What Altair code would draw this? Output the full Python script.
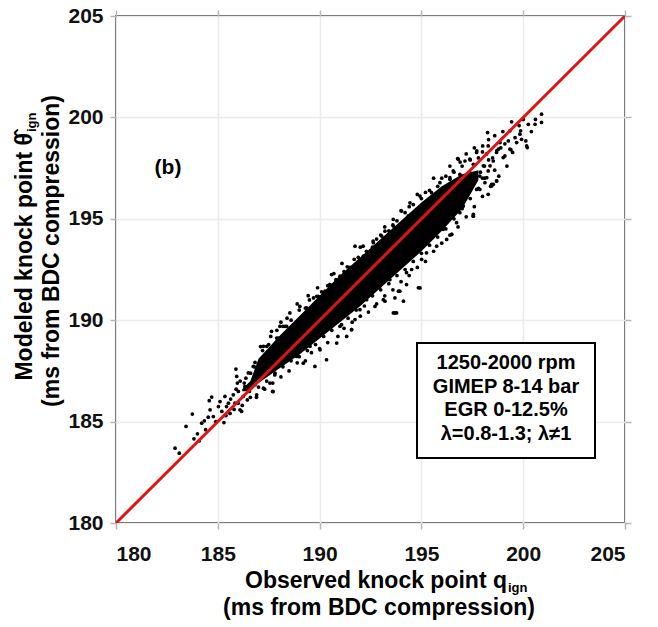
import altair as alt
import pandas as pd

FONT = "Liberation Sans"

# ---- scatter points (observed, modeled) ----
obs = [182.90,183.11,183.44,183.75,183.83,184.09,184.21,184.34,184.53,184.62,184.58,184.70,184.78,185.03,185.11,185.30,185.35,185.43,185.52,185.63,185.76,185.84,185.93,185.96,186.01,186.09,186.17,186.25,186.33,186.38,186.45,186.55,186.61,186.74,186.83,186.91,186.99,187.07,187.24,187.37,187.56,187.69,187.81,187.89,188.05,186.83,185.89,
       187.72,189.44,189.77,189.94,190.51,191.00,191.36,191.57,190.02,189.20,188.71,188.30,187.97,187.40,191.08,191.98,192.31,192.72,193.13,193.70,192.96,193.29,192.47,192.15,190.59,190.26,189.03,188.54,188.05,187.64,190.34,189.53,188.87,190.84,191.33,191.74,
       192.14,192.63,193.21,193.62,194.03,194.44,194.93,195.50,195.91,196.40,196.89,197.38,198.53,198.28,197.55,196.73,196.24,196.48,195.75,195.01,194.93,194.27,193.94,193.70,193.21,193.45,194.52,195.25,196.07,197.06,197.87,
       200.90,200.90,200.58,200.25,199.43,199.87,199.84,199.35,199.27,199.68,199.92,200.13,200.20,199.35,199.48,199.10,199.02,198.25,198.01,197.71,198.28,198.69,198.53,198.78,198.86,196.81,197.14,197.38,197.55,198.04,198.37,198.28,197.87,198.69,198.45,198.12,197.71,197.55,196.89,196.56,196.40,
       200.17,198.70,196.78,197.72,194.85,193.87,194.12,193.62,197.55,196.49,198.70,198.21,198.45,
       193.78,194.27,191.74,192.15,190.51,189.86,189.36,188.38,187.89,187.24,191.25,192.64,193.05,193.62,194.36,191.57,
       186.5,186.8,187.2,187.5,187.9,188.2,188.6,189.0,189.3,189.7,190.1,190.4,190.8,191.2,191.5,191.9,192.3,192.6,193.0,193.4,193.8,194.2,194.6,195.0,195.4,195.8,196.2,196.6,197.0,197.4,197.8,
       186.6,187.0,187.4,187.8,188.2,188.6,189.0,189.4,189.8,190.2,190.6,191.0,191.4,191.8,192.2,192.6,193.0,193.4,193.8,194.2,194.6,195.0,195.4,195.8,196.2,196.6,197.0,197.4,197.8,198.1,
       187.1,187.6,188.1,188.4,188.9,189.5,189.9,190.7,191.1,191.7,192.0,192.8,193.2,193.6,194.0,194.4,194.8,195.2,195.6,196.0,196.4,196.9,197.2,197.6,198.0,198.3,198.6,
       186.9,187.3,187.7,188.1,188.5,188.9,189.3,189.6,190.0,190.4,190.9,191.2,191.6,192.0,192.4,192.8,193.2,193.6,194.0,194.4,194.8,195.2,195.6,196.0,196.4,196.8,197.2,197.6,198.0,198.4,198.8,199.2,
       197.9,198.1,198.3,198.0,198.5,198.2,198.9,199.1,198.6,199.4,199.6,199.0,199.8,200.4,200.6,200.0,
       185.6,185.8,186.0,186.2,185.4,185.9,186.1,186.3,185.2,184.9,184.4,184.0]
mod = [183.69,183.44,184.76,185.37,184.15,184.05,184.92,185.04,185.22,185.58,186.03,186.21,185.25,185.74,185.99,184.95,186.24,185.74,185.91,186.11,186.32,185.91,187.23,186.90,186.49,185.58,185.50,186.24,186.73,187.14,186.07,186.49,187.39,187.72,186.82,186.32,187.06,187.56,186.65,187.31,186.90,186.49,187.39,187.72,187.88,187.92,187.59,
       186.48,191.21,187.72,191.18,191.75,192.17,192.63,189.53,188.54,187.88,188.38,189.70,189.12,188.71,189.78,190.52,191.01,190.68,191.01,190.36,191.67,192.17,192.41,191.67,192.25,191.43,190.68,190.36,189.70,189.45,188.05,188.71,188.21,188.87,189.20,190.03,
       193.65,193.90,194.39,194.97,195.38,195.79,196.12,196.29,196.78,197.03,197.19,197.28,196.70,196.21,195.13,194.81,193.98,194.23,193.65,193.00,191.59,191.76,191.43,191.10,190.94,192.00,192.50,193.32,194.48,195.63,196.45,
       200.16,199.75,199.66,199.66,199.78,199.34,199.17,199.34,198.84,198.76,198.92,198.84,198.51,198.43,198.27,198.10,198.02,199.25,198.59,198.27,198.59,198.27,197.85,198.43,198.76,197.94,197.85,197.94,197.69,197.61,197.61,197.36,197.11,196.87,196.62,196.78,196.45,195.22,195.30,197.36,196.95,
       198.59,198.35,197.97,198.35,191.60,191.43,190.94,190.36,195.14,194.23,196.87,197.03,196.70,
       190.36,192.34,193.65,193.16,191.76,191.18,190.61,189.70,189.12,188.71,192.17,193.82,194.15,194.64,195.14,189.54,
       187.4,187.7,188.5,188.8,189.5,189.7,190.0,190.5,190.6,191.1,191.4,191.7,192.0,192.4,192.6,193.1,193.4,193.6,194.2,194.4,194.9,195.3,195.7,196.0,196.4,196.6,197.1,197.3,197.6,197.9,198.0,
       186.2,186.7,187.0,187.3,187.7,188.0,188.2,188.5,188.8,189.2,189.5,189.7,190.1,190.5,190.7,191.2,191.5,191.8,192.2,192.5,192.9,193.3,193.7,194.1,194.5,195.0,195.5,196.0,196.5,197.0,
       188.7,189.2,189.9,190.1,190.8,191.0,191.6,192.3,192.8,193.0,193.6,194.0,194.6,194.7,195.4,195.6,196.2,196.3,197.0,197.0,197.6,197.8,198.2,198.5,198.3,198.9,199.1,
       186.2,186.6,186.9,187.2,187.5,187.9,188.0,188.4,188.6,188.9,189.2,189.6,189.9,190.2,190.4,190.8,191.2,191.5,191.9,192.2,192.6,192.9,193.4,193.8,194.2,194.6,195.1,195.6,196.1,196.6,197.1,197.6,
       197.3,197.6,197.9,197.0,198.0,198.2,198.5,198.7,197.4,198.4,199.0,199.3,199.6,199.3,199.9,199.9,
       185.4,185.6,185.9,185.8,185.3,186.6,187.0,186.9,185.5,185.0,184.6,184.4]

# ---- dense core of the cloud (lower / upper envelope) ----
band_x = [186.2, 186.6, 187.0, 188.0, 189.0, 190.0, 191.0, 192.0, 193.0, 194.0, 195.0, 196.0, 197.0, 197.8]
band_lo = [186.5, 186.5, 186.9, 187.6, 188.3, 189.1, 189.9, 190.7, 191.6, 192.5, 193.4, 194.4, 195.5, 196.9]
band_hi = [186.6, 187.0, 188.1, 189.2, 190.2, 191.2, 192.2, 193.1, 194.0, 194.9, 195.8, 196.6, 197.2, 197.4]

diag = [180, 205]
ticks = [180, 185, 190, 195, 200, 205]

box_lines = ["1250-2000 rpm", "GIMEP 8-14 bar", "EGR 0-12.5%", "\u03bb=0.8-1.3; \u03bb\u22601"]
panel_label = "(b)"
x_title = ["Observed knock point q", "ign", "(ms from BDC compression)"]
y_title = ["Modeled knock point \u03b8\u0302", "ign", "(ms from BDC compression)"]

W, H = 509, 507
LEFT, TOP = 116, 16

xs = alt.Scale(domain=[180, 205], nice=False, zero=False)
ys = alt.Scale(domain=[180, 205], nice=False, zero=False)

common = dict(values=ticks, domain=False, ticks=True, tickColor="#b5b5b5", tickSize=6,
              tickWidth=1.5, title="")

x_bottom = alt.Axis(orient="bottom", grid=True, gridColor="#ebebeb", gridWidth=1.5,
                    labelFont=FONT, labelFontSize=21, labelFontWeight="bold",
                    labelColor="#111111", labelPadding=14, **common)
y_left = alt.Axis(orient="left", grid=True, gridColor="#ebebeb", gridWidth=1.5,
                  labelFont=FONT, labelFontSize=21, labelFontWeight="bold",
                  labelColor="#111111", labelPadding=7, **common)
x_top = alt.Axis(orient="top", grid=False, labels=False, **common)
y_right = alt.Axis(orient="right", grid=False, labels=False, **common)

pts_df = pd.DataFrame({"obs": obs, "mod": mod})
band_df = pd.DataFrame({"x": band_x, "lo": band_lo, "hi": band_hi})
line_df = pd.DataFrame({"x": diag, "y": diag})

band = alt.Chart(band_df).mark_area(color="black", opacity=1).encode(
    x=alt.X("x:Q", scale=xs, axis=x_bottom),
    y=alt.Y("lo:Q", scale=ys, axis=y_left),
    y2="hi:Q",
)

points = alt.Chart(pts_df).mark_circle(color="black", size=14, opacity=1).encode(
    x=alt.X("obs:Q", scale=xs, axis=None),
    y=alt.Y("mod:Q", scale=ys, axis=None),
)

red = alt.Chart(line_df).mark_line(color="#e01414", strokeWidth=3, clip=True).encode(
    x=alt.X("x:Q", scale=xs, axis=x_top),
    y=alt.Y("y:Q", scale=ys, axis=y_right),
)


def txt(s, x, y, size, **kw):
    return alt.Chart(pd.DataFrame({"t": [s]})).mark_text(
        font=FONT, fontSize=size, fontWeight="bold", color="black", **kw
    ).encode(x=alt.value(x), y=alt.value(y), text="t:N")


box = alt.Chart(pd.DataFrame({"a": [0]})).mark_rect(
    fill="white", stroke="black", strokeWidth=2
).encode(
    x=alt.value(417 - LEFT), x2=alt.value(595 - LEFT),
    y=alt.value(343 - TOP), y2=alt.value(458 - TOP),
)

layers = [band, points, red, box]
for i, s in enumerate(box_lines):
    layers.append(txt(s, 506 - LEFT, 363 - TOP + i * 23.7, 20, align="center", baseline="middle"))

layers.append(txt(panel_label, 168 - LEFT, 168 - TOP, 21, align="center", baseline="middle"))

# x-axis title with subscript
layers.append(txt(x_title[0], 507 - LEFT, 588 - TOP, 23, align="right", baseline="alphabetic"))
layers.append(txt(x_title[1], 508 - LEFT, 592 - TOP, 13, align="left", baseline="alphabetic"))
layers.append(txt(x_title[2], 379 - LEFT, 615 - TOP, 23, align="center", baseline="alphabetic"))

# y-axis title (rotated) with subscript
layers.append(txt(y_title[0], 32 - LEFT, 133 - TOP, 23, align="right", baseline="alphabetic", angle=270))
layers.append(txt(y_title[1], 36 - LEFT, 132 - TOP, 13, align="left", baseline="alphabetic", angle=270))
layers.append(txt(y_title[2], 59 - LEFT, 251 - TOP, 23, align="center", baseline="alphabetic", angle=270))

chart = alt.layer(*layers).resolve_axis(x="independent", y="independent").properties(
    width=W, height=H,
    padding={"left": LEFT, "top": TOP, "right": 658 - LEFT - W, "bottom": 627 - TOP - H},
    autosize=alt.AutoSizeParams(type="none"),
    background="white",
).configure_view(stroke="#555555", strokeWidth=2)

chart.save("out.html", embed_options={"renderer": "svg", "actions": False})
